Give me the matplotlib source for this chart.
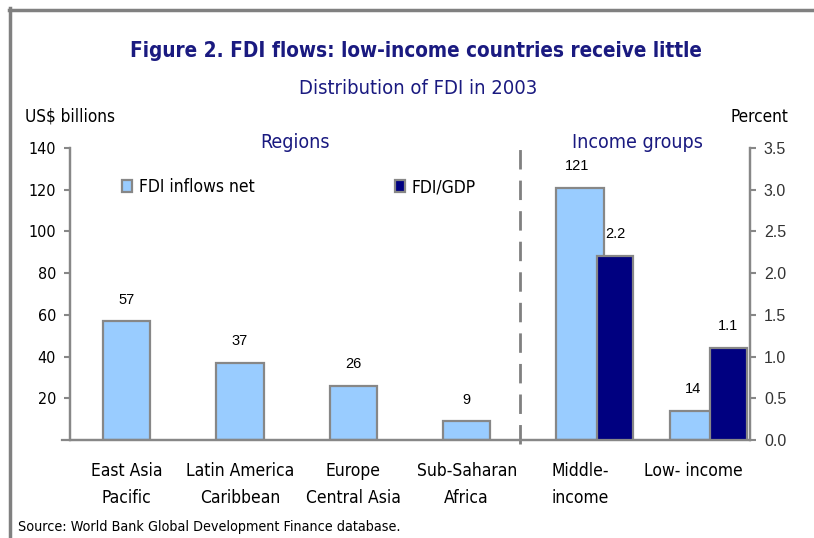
import matplotlib
matplotlib.use("Agg")
import matplotlib.pyplot as plt
from matplotlib.lines import Line2D
from matplotlib.patches import Rectangle
import numpy as np

# data
categories = ["East Asia\nPacific", "Latin America\nCaribbean", "Europe\nCentral Asia",
              "Sub-Saharan\nAfrica", "Middle-\nincome", "Low- income"]
fdi_net = [57, 37, 26, 9, 121, 14]          # US$ billions
gdp_idx = [4, 5]                            # income groups only
fdi_gdp = [2.2, 1.1]                        # percent
left_ticks = [20, 40, 60, 80, 100, 120, 140]
right_ticks = [0.0, 0.5, 1.0, 1.5, 2.0, 2.5, 3.0, 3.5]

LIGHT = "#99CCFF"
DARK = "#000080"
EDGE = "#878787"
NAVY = "#1a1a80"
ARIAL = ["Liberation Sans", "DejaVu Sans"]

# narrow look of the original: condensed DejaVu
plt.rcParams["font.family"] = ["DejaVu Sans"]
plt.rcParams["font.stretch"] = "condensed"

fig = plt.figure(figsize=(8.14, 5.38), dpi=100)
W, H = 814, 538

def fx(px):
    return px / W

def fy(py):
    return 1 - py / H

ax = fig.add_axes([fx(70), fy(440), fx(750) - fx(70), fy(148) - fy(440)])
ax2 = ax.twinx()

x = np.arange(len(categories))
ax.bar(x, fdi_net, width=0.42, color=LIGHT, edgecolor=EDGE, linewidth=1.6, zorder=2)
xg = x[gdp_idx] + 0.31
ax2.bar(xg, fdi_gdp, width=0.32, color=DARK, edgecolor=EDGE, linewidth=1.6, zorder=3)

for xi, v in zip(x, fdi_net):
    ax.text(xi - (0.03 if v > 100 else 0), v + 7, str(v), ha="center", va="bottom",
            fontsize=10.5, family=ARIAL, stretch="normal")
for xi, v in zip(xg, fdi_gdp):
    ax2.text(xi, v + 0.18, f"{v:.1f}", ha="center", va="bottom", fontsize=10.5,
             family=ARIAL, stretch="normal")

ax.set_xlim(-0.5, 5.5)
ax.set_ylim(0, 140)
ax2.set_ylim(0, 3.5)

ax.set_yticks(left_ticks)
ax.set_yticklabels([str(t) for t in left_ticks], fontsize=11.5)
ax2.set_yticks(right_ticks)
ax2.set_yticklabels([f"{t:.1f}" for t in right_ticks], fontsize=11.5, family=ARIAL,
                    stretch="normal")
ax.tick_params(axis="y", length=4, width=1.5, color=EDGE, pad=6)
ax2.tick_params(axis="y", length=4, width=1.5, color=EDGE, pad=6, labelcolor="#333333")

ax.set_xticks(x)
ax.set_xticklabels(categories, fontsize=12.5, linespacing=1.7)
ax.tick_params(axis="x", length=0, pad=15.5)

for a in (ax, ax2):
    a.spines["top"].set_visible(False)
    for s in ("left", "right", "bottom"):
        a.spines[s].set_color(EDGE)
        a.spines[s].set_linewidth(1.6)
ax.spines["bottom"].set_bounds(-0.57, 5.5)

# dashed separator between regions and income groups
ax.plot([3.47, 3.47], [-2, 140.5], color="#808080", lw=2, ls=(0, (7, 4)),
        clip_on=False, zorder=1)

# titles
fig.text(fx(416), fy(51), "Figure 2. FDI flows: low-income countries receive little",
         ha="center", va="center", fontsize=14.9, fontweight="bold", color=NAVY)
fig.text(fx(418), fy(88), "Distribution of FDI in 2003", ha="center", va="center",
         fontsize=14.5, color=NAVY)
fig.text(fx(25), fy(117), "US$ billions", ha="left", va="center", fontsize=12.3)
fig.text(fx(788), fy(117), "Percent", ha="right", va="center", fontsize=12.3)
fig.text(fx(295), fy(142), "Regions", ha="center", va="center", fontsize=14, color=NAVY)
fig.text(fx(637), fy(142), "Income groups", ha="center", va="center", fontsize=14,
         color=NAVY)

# legend
handles = [Rectangle((0, 0), 1, 1, facecolor=LIGHT, edgecolor=EDGE, linewidth=1.6)]
fig.legend(handles, ["FDI inflows net"], loc="center left",
           bbox_to_anchor=(fx(106), fy(187)), frameon=False, fontsize=12.5,
           handlelength=0.6, handleheight=0.75, handletextpad=0.4)
handles2 = [Rectangle((0, 0), 1, 1, facecolor=DARK, edgecolor=EDGE, linewidth=1.6)]
fig.legend(handles2, ["FDI/GDP"], loc="center left",
           bbox_to_anchor=(fx(379), fy(187)), frameon=False, fontsize=12.5,
           handlelength=0.6, handleheight=0.75, handletextpad=0.4)

fig.text(fx(18), fy(527), "Source: World Bank Global Development Finance database.",
         ha="left", va="center", fontsize=10.3)

# outer frame (top and left edges only visible)
fig.add_artist(Line2D([fx(9), 1], [fy(9.5), fy(9.5)], color="#808080", lw=2.5))
fig.add_artist(Line2D([fx(9.5), fx(9.5)], [fy(8), 0], color="#808080", lw=2.5))

fig.savefig("out.png", dpi=100)
